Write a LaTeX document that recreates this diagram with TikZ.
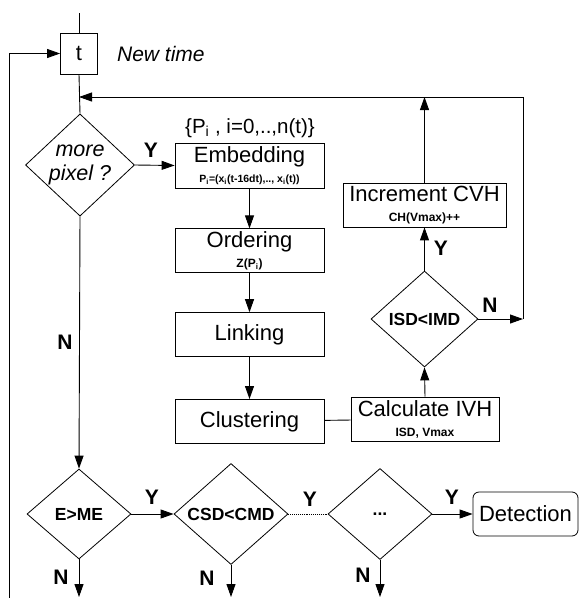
\documentclass[tikz,border=0pt]{standalone}
\usepackage{fontspec}
\setmainfont{Liberation Sans}
\usetikzlibrary{shapes.geometric, arrows.meta, positioning}

\newcommand{\subtxt}[1]{{\fontsize{12}{13}\selectfont\bfseries #1}}

\tikzset{
  flow/.style={line width=0.9pt},
  arr/.style={flow, -{Triangle[length=13pt,width=9pt]}},
  procbox/.style={draw, line width=0.8pt, inner sep=0pt, minimum width=149pt,
                  minimum height=44pt, align=center,
                  font=\fontsize{22}{20}\selectfont},
  decision/.style={draw, diamond, line width=0.8pt, inner sep=0pt, align=center,
                   font=\fontsize{17.5}{20}\selectfont\bfseries},
  yn/.style={inner sep=0pt, font=\fontsize{21}{22}\selectfont\bfseries}
}

\begin{document}
\begin{tikzpicture}[x=1pt, y=-1pt]
    \useasboundingbox (0,0) rectangle (579,598);

    % time step and pixel loop
    \node[procbox, minimum width=37pt, minimum height=41pt] (tbox) at (79,53.5) {t};
    \node[inner sep=0pt, right=19pt of tbox, font=\fontsize{21}{22}\selectfont\itshape]
      (newtime) {New time};
    \node[decision, minimum width=109pt, minimum height=96pt,
          font=\fontsize{21.5}{24}\selectfont\itshape] (morepix) at (80,165)
          {more\\pixel ?};

    % processing column
    \node[procbox, minimum height=45pt] (emb) at (249.5,165.5)
      {Embedding\\\subtxt{\fontsize{10.5}{12}\selectfont
       P\textsubscript{i}=(x\textsubscript{i}(t-16dt),.., x\textsubscript{i}(t))}};
    \node[procbox, below=40pt of emb] (ord)
      {Ordering\\\subtxt{Z(P\textsubscript{i})}};
    \node[procbox, below=39pt of ord] (link) {Linking};
    \node[procbox, below=42pt of link] (clus) {Clustering};
    \node[inner sep=0pt, font=\fontsize{20.5}{22}\selectfont] (pset) at (250,128)
      {\{P\textsubscript{i} , i=0,..,n(t)\}};

    % histogram update
    \node[procbox, minimum width=148pt] (calc) at (425,419)
      {Calculate IVH\\\subtxt{ISD, Vmax}};
    \node[decision, minimum width=107pt, minimum height=96pt] (isd) at (424.5,319)
      {ISD<IMD};
    \node[procbox, minimum width=163pt] (incr) at (424.5,205)
      {Increment CVH\\\subtxt{CH(Vmax)++}};

    % detection chain
    \node[decision, minimum width=104pt, minimum height=90pt] (eme) at (79,514) {E>ME};
    \node[decision, minimum width=114pt, minimum height=101pt] (csd) at (231,514) {CSD<CMD};
    \node[decision, minimum width=104pt, minimum height=91pt] (more) at (380,514) {...};
    \node[procbox, rounded corners=6pt, minimum width=105pt] (det) at (525.5,514)
      {Detection};

    \coordinate (entry) at (79,13);
    \coordinate (loopB) at (9,598);
    \coordinate (bottom) at (0,597);
    \coordinate (cornerR) at (523,319);
    \coordinate (cornerT) at (523,97);
    \coordinate (joinT) at (79,97);

    \draw[flow] (entry) -- (tbox.north);
    \draw[flow] (tbox.south) -- (morepix.north);
    \draw[arr] (loopB) -- (loopB |- tbox.west) -- (tbox.west);
    \draw[arr] (morepix.east) -- (emb.west);
    \draw[arr] (emb) -- (ord);
    \draw[arr] (ord) -- (link);
    \draw[arr] (link) -- (clus);
    \draw[flow] (clus) -- (calc);
    \draw[arr] (calc.north) -- (isd.south);
    \draw[arr] (isd.north) -- (incr.south);
    \draw[arr] (isd.east) -- (cornerR);
    \draw[arr] (cornerR) -- (cornerT) -- (joinT);
    \draw[arr] (incr.north) -- (incr.north |- cornerT);
    \draw[arr] (morepix.south) -- (eme.north);
    \draw[arr] (eme.east) -- (csd.west);
    \draw[flow, densely dotted] (csd.east) -- (more.west);
    \draw[arr] (more.east) -- (det.west);
    \draw[arr] (eme.south) -- (eme.south |- bottom);
    \draw[arr] (csd.south) -- (csd.south |- bottom);
    \draw[arr] (more.south) -- (more.south |- bottom);

    % branch labels
    \node[yn] (yPix) at (151,150) {Y};
    \node[yn] (nPix) at (65,342) {N};
    \node[yn] (yIsd) at (441,248) {Y};
    \node[yn] (nIsd) at (490,305) {N};
    \node[yn] (yEme) at (152,497) {Y};
    \node[yn] (yCsd) at (310,499) {Y};
    \node[yn] (yMore) at (452,497) {Y};
    \node[yn] (nEme) at (61,577) {N};
    \node[yn] (nCsd) at (207,578) {N};
    \node[yn] (nMore) at (363,575) {N};
\end{tikzpicture}
\end{document}
